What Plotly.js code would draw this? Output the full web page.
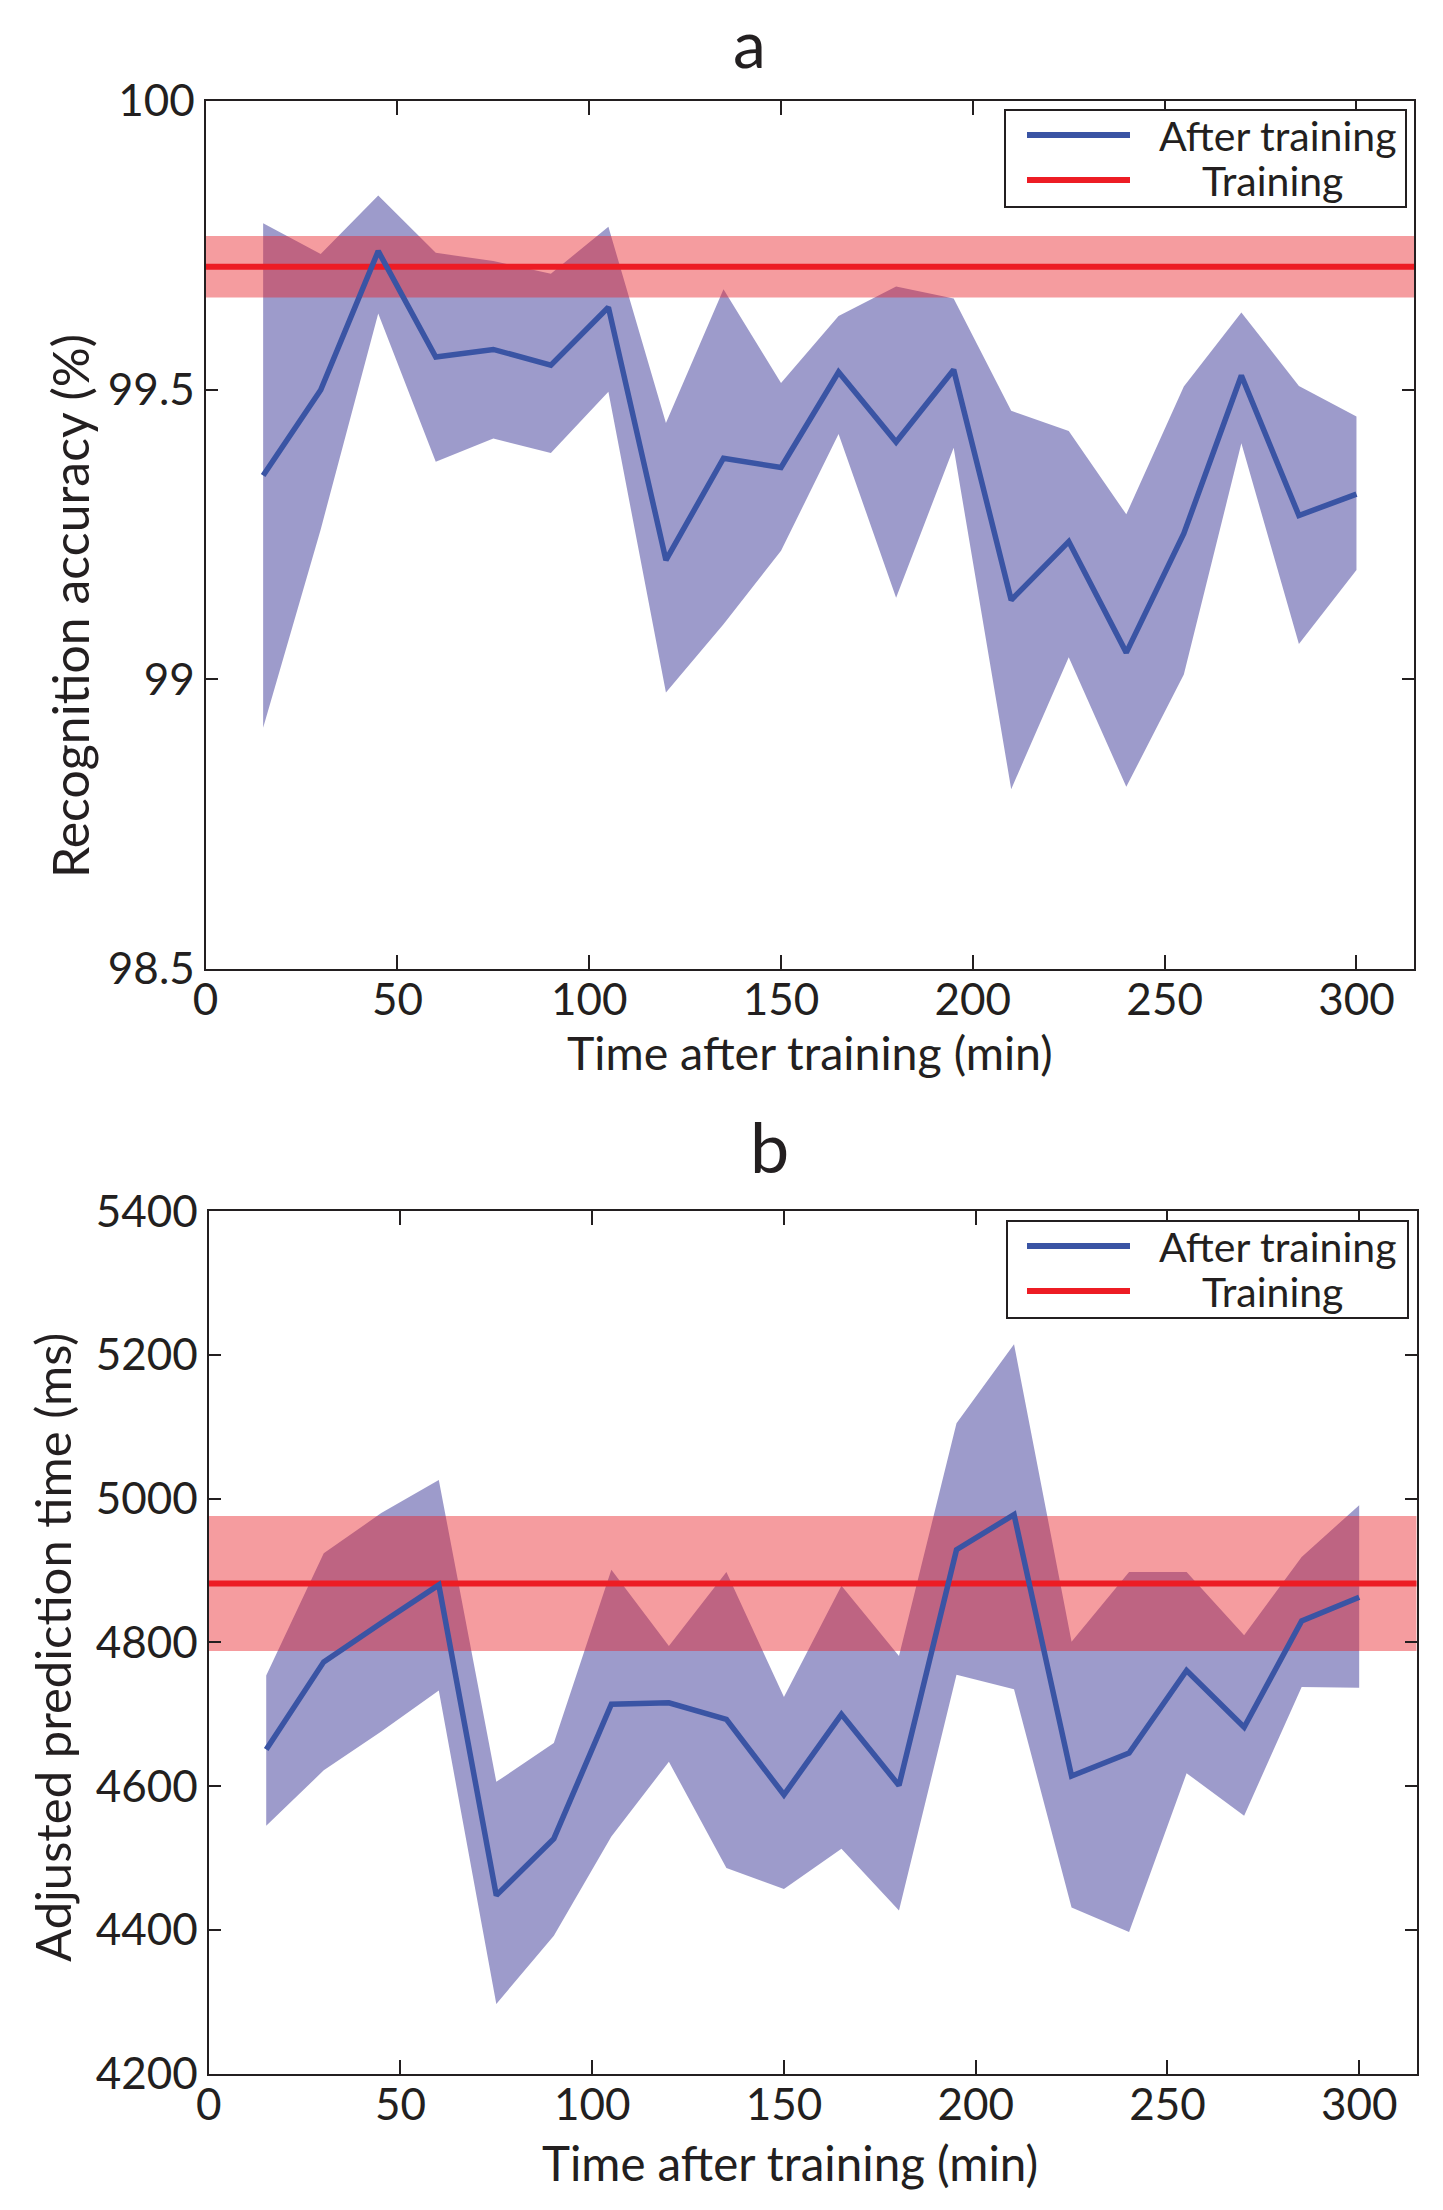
<!DOCTYPE html>
<html>
<head>
<meta charset="utf-8">
<script src="https://cdn.plot.ly/plotly-3.0.1.min.js"></script>
<style>
  html, body { margin: 0; padding: 0; background: #fff; }
  #chart { width: 1443px; height: 2210px; }
</style>
</head>
<body>
<div id="chart"></div>
<script>
// time after training (min)
var timeMin = [15, 30, 45, 60, 75, 90, 105, 120, 135, 150, 165, 180, 195, 210, 225, 240, 255, 270, 285, 300];

// panel a: recognition accuracy (%)
var accMean = [99.352, 99.50, 99.74, 99.557, 99.570, 99.543, 99.643, 99.206, 99.382, 99.366,
               99.531, 99.410, 99.535, 99.137, 99.238, 99.046, 99.252, 99.525, 99.283, 99.320];
var accHi   = [99.788, 99.735, 99.836, 99.737, 99.723, 99.701, 99.782, 99.443, 99.674, 99.512,
               99.628, 99.679, 99.658, 99.464, 99.429, 99.285, 99.506, 99.634, 99.507, 99.454];
var accLo   = [98.916, 99.259, 99.632, 99.376, 99.416, 99.391, 99.497, 98.977, 99.095, 99.222,
               99.424, 99.141, 99.400, 98.810, 99.038, 98.814, 99.008, 99.408, 99.061, 99.189];
var accTrain = 99.713, accTrainLo = 99.660, accTrainHi = 99.766;

// panel b: adjusted prediction time (ms)
var rtMean = [4651, 4773, 4827, 4880, 4448, 4527, 4714, 4716, 4693, 4588,
              4700, 4601, 4929, 4978, 4614, 4646, 4761, 4682, 4830, 4863];
var rtHi   = [4754, 4924, 4980, 5026, 4606, 4660, 4901, 4795, 4898, 4724,
              4879, 4781, 5105, 5215, 4801, 4898, 4898, 4810, 4919, 4991];
var rtLo   = [4545, 4622, 4676, 4733, 4297, 4392, 4530, 4634, 4486, 4457,
              4513, 4427, 4755, 4735, 4431, 4397, 4618, 4559, 4738, 4737];
var rtTrain = 4882, rtTrainLo = 4788, rtTrainHi = 4976;

var trainSpan = [0, 315];
var xTicks = [0, 50, 100, 150, 200, 250, 300];
var accTicks = [98.5, 99, 99.5, 100];
var accTickText = ['98.5', '99', '99.5', '100'];
var rtTicks = [4200, 4400, 4600, 4800, 5000, 5200, 5400];

var W = 1443, H = 2210;
var FONT = 'Lato, "Open Sans", sans-serif';
var INK = '#231f20';
var BLUE = '#3a54a4', RED = '#ed1c24';
var BLUE_FILL = 'rgba(60,56,152,0.5)', RED_FILL = 'rgba(233,30,36,0.44)';
var X_TITLE = 'Time after training (min)';

function px(x) { return x / W; }
function py(y) { return 1 - y / H; }
function flat(v, n) { var a = []; for (var i = 0; i < n; i++) a.push(v); return a; }

function panelTraces(xa, ya, lo, hi, mean, tr, trLo, trHi) {
  return [
    {x: timeMin, y: lo, xaxis: xa, yaxis: ya, mode: 'lines', line: {width: 0}, hoverinfo: 'skip', showlegend: false},
    {x: timeMin, y: hi, xaxis: xa, yaxis: ya, mode: 'lines', line: {width: 0}, fill: 'tonexty', fillcolor: BLUE_FILL, hoverinfo: 'skip', showlegend: false},
    {x: trainSpan, y: flat(trLo, 2), xaxis: xa, yaxis: ya, mode: 'lines', line: {width: 0}, hoverinfo: 'skip', showlegend: false},
    {x: trainSpan, y: flat(trHi, 2), xaxis: xa, yaxis: ya, mode: 'lines', line: {width: 0}, fill: 'tonexty', fillcolor: RED_FILL, hoverinfo: 'skip', showlegend: false},
    {x: trainSpan, y: flat(tr, 2), xaxis: xa, yaxis: ya, mode: 'lines', name: 'Training', line: {color: RED, width: 6}, showlegend: false},
    {x: timeMin, y: mean, xaxis: xa, yaxis: ya, mode: 'lines', name: 'After training', line: {color: BLUE, width: 5.5}, showlegend: false}
  ];
}

var data = panelTraces('x', 'y', accLo, accHi, accMean, accTrain, accTrainLo, accTrainHi)
  .concat(panelTraces('x2', 'y2', rtLo, rtHi, rtMean, rtTrain, rtTrainLo, rtTrainHi));

function xAxis(domain, anchor, title) {
  var ax = {
    domain: domain, anchor: anchor, range: [0, 315], autorange: false,
    tickmode: 'array', tickvals: xTicks,
    ticks: 'inside', ticklen: 14, tickwidth: 2, tickcolor: INK,
    showline: true, linewidth: 2, linecolor: INK, mirror: 'ticks',
    showgrid: false, zeroline: false, ticklabelstandoff: -8,
    tickfont: {family: FONT, size: 44, color: INK}
  };
  if (title) ax.title = title;
  return ax;
}
function yAxis(domain, anchor, range, vals, text) {
  var ax = {
    domain: domain, anchor: anchor, range: range, autorange: false,
    tickmode: 'array', tickvals: vals,
    ticks: 'inside', ticklen: 12, tickwidth: 2, tickcolor: INK,
    showline: true, linewidth: 2, linecolor: INK, mirror: 'ticks',
    showgrid: false, zeroline: false,
    tickfont: {family: FONT, size: 44, color: INK}
  };
  if (text) ax.ticktext = text;
  return ax;
}

// hand drawn legend boxes, one per panel
function legendParts(top, left, right) {
  var shapes = [
    {type: 'rect', xref: 'paper', yref: 'paper', x0: px(left), x1: px(right), y0: py(top), y1: py(top + 97),
     line: {color: INK, width: 2}, fillcolor: '#fff', layer: 'above'},
    {type: 'line', xref: 'paper', yref: 'paper', x0: px(1027), x1: px(1130), y0: py(top + 25), y1: py(top + 25),
     line: {color: BLUE, width: 6}, layer: 'above'},
    {type: 'line', xref: 'paper', yref: 'paper', x0: px(1027), x1: px(1130), y0: py(top + 70), y1: py(top + 70),
     line: {color: RED, width: 6}, layer: 'above'}
  ];
  var notes = [
    {text: 'After training', x: px(1277), y: py(top + 25), xref: 'paper', yref: 'paper', showarrow: false,
     xanchor: 'center', yanchor: 'middle', font: {family: FONT, size: 41, color: INK}},
    {text: 'Training', x: px(1272), y: py(top + 70), xref: 'paper', yref: 'paper', showarrow: false,
     xanchor: 'center', yanchor: 'middle', font: {family: FONT, size: 41, color: INK}}
  ];
  return {shapes: shapes, notes: notes};
}
var legA = legendParts(110, 1005, 1406);
var legB = legendParts(1221, 1007, 1408);

var annotations = [
  {text: 'a', x: px(749), y: py(42), xref: 'paper', yref: 'paper', showarrow: false, xanchor: 'center', yanchor: 'middle',
   font: {family: FONT, size: 66, color: INK}},
  {text: 'b', x: px(770), y: py(1146), xref: 'paper', yref: 'paper', showarrow: false, xanchor: 'center', yanchor: 'middle',
   font: {family: FONT, size: 70, color: INK}},
  {text: 'Recognition accuracy (%)', x: px(70), y: py(606), xref: 'paper', yref: 'paper', showarrow: false, textangle: -90,
   xanchor: 'center', yanchor: 'middle', font: {family: FONT, size: 50, color: INK}},
  {text: 'Adjusted prediction time (ms)', x: px(52), y: py(1648), xref: 'paper', yref: 'paper', showarrow: false, textangle: -90,
   xanchor: 'center', yanchor: 'middle', font: {family: FONT, size: 49, color: INK}},
  {text: X_TITLE, x: px(790), y: py(2162), xref: 'paper', yref: 'paper', showarrow: false,
   xanchor: 'center', yanchor: 'middle', font: {family: FONT, size: 47.5, color: INK}}
].concat(legA.notes, legB.notes);

var layout = {
  width: W, height: H,
  margin: {l: 0, r: 0, t: 0, b: 0},
  paper_bgcolor: '#fff', plot_bgcolor: '#fff',
  showlegend: false,
  font: {family: FONT, color: INK},
  xaxis: xAxis([px(205.6), px(1414)], 'y', {text: X_TITLE, font: {family: FONT, size: 46.5, color: INK}, standoff: 2}),
  yaxis: yAxis([py(968.5), py(100.7)], 'x', [98.5, 100], accTicks, accTickText),
  xaxis2: xAxis([px(208.7), px(1416.7)], 'y2'),
  yaxis2: yAxis([py(2073.6), py(1211.3)], 'x2', [4200, 5400], rtTicks),
  shapes: legA.shapes.concat(legB.shapes),
  annotations: annotations
};

Plotly.newPlot('chart', data, layout, {staticPlot: true});
</script>
</body>
</html>
